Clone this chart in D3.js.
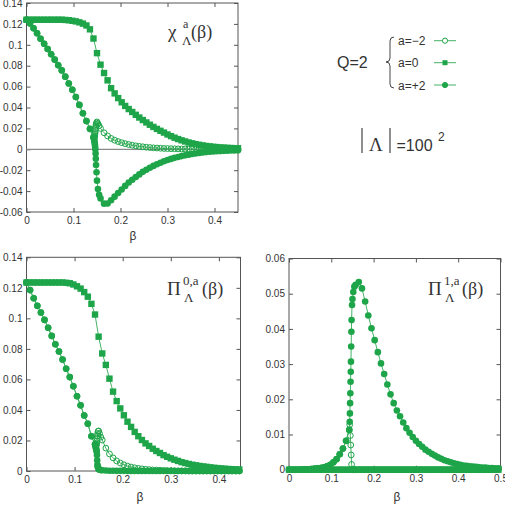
<!DOCTYPE html>
<html>
<head>
<meta charset="utf-8">
<script src="https://cdn.jsdelivr.net/npm/d3@7"></script>
<style>
body { margin: 0; background: #fff; }
svg { display: block; }
text { font-family: "Liberation Sans", Arial, sans-serif; fill: #333; }
.serif { font-family: "Liberation Serif", "Times New Roman", serif; }
</style>
</head>
<body>
<svg id="svg"></svg>
<script>
// beta grid (regular part) and extra points close to the transition
const betaCoarse = [
    0, 0.0075, 0.015, 0.0225, 0.03, 0.0375, 0.045, 0.0525, 0.06, 0.0675,
    0.075, 0.0825, 0.09, 0.0975, 0.105, 0.1125, 0.12, 0.1275, 0.135, 0.1425,
    0.15, 0.1575, 0.165, 0.1725, 0.18, 0.1875, 0.195, 0.2025, 0.21, 0.2175,
    0.225, 0.2325, 0.24, 0.2475, 0.255, 0.2625, 0.27, 0.2775, 0.285, 0.2925,
    0.3, 0.3075, 0.315, 0.3225, 0.33, 0.3375, 0.345, 0.3525, 0.36, 0.3675,
    0.375, 0.3825, 0.39, 0.3975, 0.405, 0.4125, 0.42, 0.4275, 0.435, 0.4425,
    0.45, 0.4575, 0.465, 0.4725, 0.48, 0.4875, 0.495];
const betaCrit = [0.1435, 0.144, 0.1445, 0.145, 0.1455, 0.146, 0.1465, 0.147, 0.1475, 0.148, 0.149, 0.152, 0.1545];

// chi^a
const chiZero = [
    0.124, 0.124, 0.124, 0.124, 0.124, 0.124, 0.124, 0.124, 0.124, 0.124,
    0.124, 0.1238, 0.1235, 0.123, 0.1224, 0.1215, 0.1203, 0.1185, 0.1148, 0.106,
    0.092, 0.081, 0.073, 0.066, 0.0585, 0.0535, 0.049, 0.045, 0.0415, 0.0385,
    0.0357, 0.033, 0.0304, 0.028, 0.0257, 0.0235, 0.0214, 0.0195, 0.0177, 0.016,
    0.0142, 0.0126, 0.0111, 0.0098, 0.0086, 0.0075, 0.0065, 0.0057, 0.0049, 0.0043,
    0.0037, 0.0032, 0.0028, 0.0024, 0.0021, 0.0018, 0.0016, 0.0014, 0.0012, 0.0011,
    0.001, 0.0009, 0.0008, 0.0007, 0.0006, 0.0006, 0.0005];
const chiPlus = [
    0.124, 0.1205, 0.1158, 0.111, 0.1058, 0.101, 0.096, 0.091, 0.0858, 0.0805,
    0.0755, 0.0695, 0.063, 0.057, 0.05, 0.0425, 0.0345, 0.027, 0.0195, 0.0115,
    -0.03, -0.047, -0.052, -0.0518, -0.0487, -0.0453, -0.0418, -0.0385, -0.035, -0.0317,
    -0.0292, -0.0265, -0.024, -0.0216, -0.0195, -0.0176, -0.0159, -0.0143, -0.0128, -0.0115,
    -0.0103, -0.0092, -0.0082, -0.0073, -0.0065, -0.0058, -0.0051, -0.0045, -0.004, -0.0035,
    -0.0031, -0.0027, -0.0024, -0.0021, -0.0019, -0.0017, -0.0015, -0.0013, -0.0012, -0.0011,
    -0.001, -0.0009, -0.0008, -0.0007, -0.0006, -0.0006, -0.0005];
const chiPlusCrit = [0.0105, 0.0095, 0.008, 0.0065, 0.0045, 0.0025, 0.0, -0.004, -0.009, -0.015, -0.022, -0.038, -0.0435];
const chiMinus = [
    0.124, 0.1205, 0.1158, 0.111, 0.1058, 0.101, 0.096, 0.091, 0.0858, 0.0805,
    0.0755, 0.0695, 0.063, 0.057, 0.05, 0.0425, 0.0345, 0.027, 0.0195, 0.0115,
    0.0262, 0.02, 0.0158, 0.0128, 0.0104, 0.0087, 0.0074, 0.0063, 0.0054, 0.0046,
    0.0039, 0.0033, 0.0028, 0.0024, 0.002, 0.0017, 0.0014, 0.0012, 0.001, 0.0008,
    0.0007, 0.0006, 0.0005, 0.0004, 0.0003, 0.0003, 0.0002, 0.0002, 0.0002, 0.0001,
    0.0001, 0.0001, 0.0001, 0.0001, 0, 0, 0, 0, 0, 0,
    0, 0, 0, 0, 0, 0, 0];
const chiMinusCrit = [0.0112, 0.0115, 0.012, 0.013, 0.0145, 0.016, 0.018, 0.02, 0.022, 0.0238, 0.0252, 0.0245, 0.0225];

// Pi^{0,a}
const pi0Zero = [
    0.1235, 0.1235, 0.1235, 0.1235, 0.1235, 0.1235, 0.1235, 0.1235, 0.1235, 0.1235,
    0.1235, 0.1233, 0.123, 0.1222, 0.121, 0.1195, 0.1172, 0.1142, 0.1095, 0.1025,
    0.088, 0.077, 0.0695, 0.0605, 0.052, 0.0458, 0.041, 0.0365, 0.0323, 0.0289,
    0.0256, 0.0228, 0.0203, 0.0181, 0.0164, 0.0146, 0.0131, 0.0118, 0.0104, 0.0093,
    0.0083, 0.0074, 0.0066, 0.0058, 0.0052, 0.0046, 0.0041, 0.0037, 0.0033, 0.003,
    0.0027, 0.0024, 0.0021, 0.0019, 0.0017, 0.0015, 0.0013, 0.0012, 0.0011, 0.001,
    0.0009, 0.0008, 0.0007, 0.0007, 0.0006, 0.0006, 0.0005];
const pi0Plus = [
    0.1235, 0.1185, 0.1132, 0.1082, 0.1038, 0.099, 0.0938, 0.0885, 0.083, 0.0783,
    0.073, 0.067, 0.0615, 0.0555, 0.049, 0.043, 0.0364, 0.031, 0.0228, 0.0175,
    0.0012, 0.0005, 0.0003, 0.0002, 0.0002, 0.0001, 0.0001, 0.0001, 0, 0,
    0, 0, 0, 0, 0, 0, 0, 0, 0, 0,
    0, 0, 0, 0, 0, 0, 0, 0, 0, 0,
    0, 0, 0, 0, 0, 0, 0, 0, 0, 0,
    0, 0, 0, 0, 0, 0, 0];
const pi0PlusCrit = [0.0165, 0.0158, 0.015, 0.0142, 0.0135, 0.0128, 0.0105, 0.007, 0.004, 0.003, 0.0022, 0.0008, 0.0006];
const pi0Minus = [
    0.1235, 0.1185, 0.1132, 0.1082, 0.1038, 0.099, 0.0938, 0.0885, 0.083, 0.0783,
    0.073, 0.067, 0.0615, 0.0555, 0.049, 0.043, 0.0364, 0.031, 0.0228, 0.0175,
    0.0262, 0.0203, 0.015, 0.0112, 0.0086, 0.0066, 0.0052, 0.0041, 0.0032, 0.0026,
    0.0021, 0.0017, 0.0014, 0.0011, 0.0009, 0.0007, 0.0006, 0.0005, 0.0004, 0.0003,
    0.0002, 0.0002, 0.0001, 0.0001, 0.0001, 0, 0, 0, 0, 0,
    0, 0, 0, 0, 0, 0, 0, 0, 0, 0,
    0, 0, 0, 0, 0, 0, 0];
const pi0MinusCrit = [0.0172, 0.0168, 0.0166, 0.0168, 0.0175, 0.0185, 0.0197, 0.0212, 0.023, 0.0246, 0.026, 0.0245, 0.0222];

// Pi^{1,a}
const pi1Zero = [
    0, 0, 0, 0, 0, 0, 0, 0, 0, 0,
    0, 0, 0, 0, 0, 0, 0, 0, 0, 0,
    0, 0, 0, 0, 0, 0, 0, 0, 0, 0,
    0, 0, 0, 0, 0, 0, 0, 0, 0, 0,
    0, 0, 0, 0, 0, 0, 0, 0, 0, 0,
    0, 0, 0, 0, 0, 0, 0, 0, 0, 0,
    0, 0, 0, 0, 0, 0, 0];
const pi1Plus = [
    0, 0, 0, 0, 0.00005, 0.0001, 0.00013, 0.0002, 0.0003, 0.0004,
    0.0005, 0.0007, 0.001, 0.0014, 0.0021, 0.003, 0.0044, 0.006, 0.0082, 0.0113,
    0.0485, 0.0525, 0.0533, 0.0515, 0.0478, 0.0438, 0.0402, 0.0368, 0.0334, 0.0302,
    0.0272, 0.0242, 0.0214, 0.0189, 0.0168, 0.0152, 0.0134, 0.0118, 0.0105, 0.0093,
    0.0082, 0.0073, 0.0065, 0.0057, 0.0051, 0.0045, 0.004, 0.0035, 0.0031, 0.0027,
    0.0024, 0.0021, 0.0018, 0.0016, 0.0014, 0.0012, 0.0011, 0.001, 0.0009, 0.0008,
    0.0007, 0.0006, 0.0006, 0.0005, 0.0005, 0.0004, 0.0004];
const pi1PlusCrit = [0.0136, 0.016, 0.0189, 0.0217, 0.025, 0.0278, 0.0307, 0.035, 0.0392, 0.0425, 0.0468, 0.0505, 0.052];
const pi1Minus = [
    0, 0, 0, 0, 0.00005, 0.0001, 0.00013, 0.0002, 0.0003, 0.0004,
    0.0005, 0.0007, 0.001, 0.0014, 0.0021, 0.003, 0.0044, 0.006, 0.0082, 0.0113,
    0, 0, 0, 0, 0, 0, 0, 0, 0, 0,
    0, 0, 0, 0, 0, 0, 0, 0, 0, 0,
    0, 0, 0, 0, 0, 0, 0, 0, 0, 0,
    0, 0, 0, 0, 0, 0, 0, 0, 0, 0,
    0, 0, 0, 0, 0, 0, 0];
const pi1MinusCrit = [0.0128, null, null, 0.0097, null, 0.007, null, 0.0042, null, 0.0015, null, 0, 0];

// tick values
const chiTicks = [-0.06, -0.04, -0.02, 0, 0.02, 0.04, 0.06, 0.08, 0.1, 0.12, 0.14];
const pi0Ticks = [0, 0.02, 0.04, 0.06, 0.08, 0.1, 0.12, 0.14];
const pi1Ticks = [0, 0.01, 0.02, 0.03, 0.04, 0.05, 0.06];
const betaTicks = [0, 0.1, 0.2, 0.3, 0.4];
const betaTicksLong = [0, 0.1, 0.2, 0.3, 0.4, 0.5];

const legendLabels = ["a=\u22122", "a=0", "a=+2"];

let width = 505;
let height = 509;
const green = "#1ea549";
const lineGreen = "#44b366";
const frameColor = "#555";

let svg = d3.select("#svg").attr("width", width).attr("height", height);

function mergePoints(coarse, crit) {
    let pts = betaCoarse.map((b, i) => [b, coarse[i]]);
    if (crit) {
        betaCrit.forEach((b, i) => {
            if (crit[i] !== null) pts.push([b, crit[i]]);
        });
    }
    pts.sort((p, q) => p[0] - q[0]);
    return pts;
}

function drawMarkers(g, pts, kind) {
    if (kind === "square") {
        g.selectAll(null).data(pts).enter().append("rect")
            .attr("x", d => d[0] - 3.2).attr("y", d => d[1] - 3.2)
            .attr("width", 6.4).attr("height", 6.4)
            .attr("fill", green);
    } else {
        g.selectAll(null).data(pts).enter().append("circle")
            .attr("cx", d => d[0]).attr("cy", d => d[1])
            .attr("r", kind === "open" ? 2.9 : 3.3)
            .attr("fill", kind === "open" ? "none" : green)
            .attr("stroke", green)
            .attr("stroke-width", kind === "open" ? 1 : 0);
    }
}

const fmt = d => String(+d.toFixed(2));

function drawPanel(p) {
    let x = d3.scaleLinear().domain(p.xDomain).range([p.box.x0, p.box.x1]);
    let y = d3.scaleLinear().domain(p.yDomain).range([p.box.y1, p.box.y0]);
    let g = svg.append("g");

    // gnuplot style: inward ticks on all four sides
    let axes = g.append("g");
    axes.append("g").attr("transform", `translate(${p.box.x0},0)`)
        .call(d3.axisLeft(y).tickValues(p.yTicks).tickSize(-4).tickPadding(4).tickFormat(fmt));
    axes.append("g").attr("transform", `translate(${p.box.x1},0)`)
        .call(d3.axisRight(y).tickValues(p.yTicks).tickSize(-4).tickFormat(""));
    axes.append("g").attr("transform", `translate(0,${p.box.y1})`)
        .call(d3.axisBottom(x).tickValues(p.xTicks).tickSize(-4).tickPadding(5).tickFormat(fmt));
    axes.append("g").attr("transform", `translate(0,${p.box.y0})`)
        .call(d3.axisTop(x).tickValues(p.xTicks).tickSize(-4).tickFormat(""));
    axes.selectAll(".domain").remove();
    axes.selectAll(".tick line").attr("stroke", frameColor);
    axes.selectAll("g").attr("font-family", "Liberation Sans, Arial, sans-serif").attr("font-size", 10);

    g.append("rect")
        .attr("x", p.box.x0).attr("y", p.box.y0)
        .attr("width", p.box.x1 - p.box.x0).attr("height", p.box.y1 - p.box.y0)
        .attr("fill", "none").attr("stroke", frameColor).attr("stroke-width", 1);

    if (p.zeroLine) {
        g.append("line")
            .attr("x1", p.box.x0).attr("x2", p.box.x1)
            .attr("y1", y(0)).attr("y2", y(0))
            .attr("stroke", "#8a8a8a").attr("stroke-width", 1.2);
    }

    let line = d3.line().x(d => x(d[0])).y(d => y(d[1]));
    p.series.forEach(s => {
        let pts = s.points.filter(d => d[0] <= p.xDomain[1] + 1e-9);
        g.append("path").datum(pts)
            .attr("fill", "none").attr("stroke", lineGreen).attr("stroke-width", 1)
            .attr("d", line);
        drawMarkers(g.append("g"), pts.map(d => [x(d[0]), y(d[1])]), s.kind);
    });

    // x label
    g.append("text").attr("x", p.xLabel[0]).attr("y", p.xLabel[1])
        .attr("text-anchor", "middle").attr("font-size", 12).text("\u03b2");

    // title, e.g. Pi^{0,a}_Lambda(beta)
    let t = p.title;
    g.append("text").attr("class", "serif").attr("x", t.x).attr("y", t.y)
        .attr("font-size", 19).text(t.main);
    g.append("text").attr("class", "serif").attr("x", t.supX).attr("y", t.y - 10)
        .attr("font-size", t.supSize).text(t.sup);
    g.append("text").attr("class", "serif").attr("x", t.subX).attr("y", t.y + 7)
        .attr("font-size", 13).text("\u039b");
    g.append("text").attr("class", "serif").attr("x", t.parenX).attr("y", t.y)
        .attr("font-size", 18).text("(\u03b2)");
}

const panels = [
    {
        box: { x0: 26.5, x1: 238, y0: 3, y1: 212 },
        xDomain: [0, 0.45], yDomain: [-0.06, 0.14],
        xTicks: betaTicks, yTicks: chiTicks, zeroLine: true,
        xLabel: [133, 240],
        title: { main: "\u03c7", sup: "a", supSize: 12, x: 168, y: 38, supX: 183, subX: 182, parenX: 191 },
        series: [
            { kind: "open", points: mergePoints(chiMinus, chiMinusCrit) },
            { kind: "square", points: mergePoints(chiZero) },
            { kind: "filled", points: mergePoints(chiPlus, chiPlusCrit) }
        ]
    },
    {
        box: { x0: 26.5, x1: 240.5, y0: 257.3, y1: 471 },
        xDomain: [0, 0.445], yDomain: [0, 0.14],
        xTicks: betaTicks, yTicks: pi0Ticks, zeroLine: false,
        xLabel: [140, 501],
        title: { main: "\u03a0", sup: "0,a", supSize: 13, x: 167, y: 295, supX: 183, subX: 184, parenX: 202 },
        series: [
            { kind: "open", points: mergePoints(pi0Minus, pi0MinusCrit) },
            { kind: "square", points: mergePoints(pi0Zero) },
            { kind: "filled", points: mergePoints(pi0Plus, pi0PlusCrit) }
        ]
    },
    {
        box: { x0: 289, x1: 500.5, y0: 258.5, y1: 469.7 },
        xDomain: [0, 0.5], yDomain: [0, 0.06],
        xTicks: betaTicksLong, yTicks: pi1Ticks, zeroLine: false,
        xLabel: [397, 501],
        title: { main: "\u03a0", sup: "1,a", supSize: 13, x: 428, y: 295, supX: 444, subX: 445, parenX: 462 },
        series: [
            { kind: "open", points: mergePoints(pi1Minus, pi1MinusCrit) },
            { kind: "square", points: mergePoints(pi1Zero) },
            { kind: "filled", points: mergePoints(pi1Plus, pi1PlusCrit) }
        ]
    }
];

function drawLegend() {
    let g = svg.append("g");
    g.append("text").attr("x", 337).attr("y", 68).attr("font-size", 16).text("Q=2");

    // curly brace
    g.append("path")
        .attr("d", "M394,37 Q390,37 390,41 L390,58 Q390,62 386,62 Q390,62 390,66 L390,84 Q390,88 394,88")
        .attr("fill", "none").attr("stroke", "#444").attr("stroke-width", 1);

    const kinds = ["open", "square", "filled"];
    const rowY = [40.7, 62.7, 85];
    legendLabels.forEach((lab, i) => {
        g.append("text").attr("x", 398).attr("y", rowY[i] + 4.5).attr("font-size", 12).text(lab);
        g.append("line").attr("x1", 434).attr("x2", 456).attr("y1", rowY[i]).attr("y2", rowY[i])
            .attr("stroke", lineGreen).attr("stroke-width", 1);
        let k = kinds[i];
        if (k === "square") {
            g.append("rect").attr("x", 442.5).attr("y", rowY[i] - 2.5).attr("width", 5).attr("height", 5).attr("fill", green);
        } else {
            g.append("circle").attr("cx", 445).attr("cy", rowY[i]).attr("r", 2.6)
                .attr("fill", k === "open" ? "#fff" : green).attr("stroke", green).attr("stroke-width", 1);
        }
    });

    // |Lambda| = 100^2
    g.append("line").attr("x1", 362).attr("x2", 362).attr("y1", 128).attr("y2", 153).attr("stroke", "#444").attr("stroke-width", 1.2);
    g.append("line").attr("x1", 390).attr("x2", 390).attr("y1", 128).attr("y2", 153).attr("stroke", "#444").attr("stroke-width", 1.2);
    g.append("text").attr("class", "serif").attr("x", 369).attr("y", 151).attr("font-size", 19).text("\u039b");
    g.append("text").attr("x", 396.5).attr("y", 151).attr("font-size", 16).text("=100");
    g.append("text").attr("x", 438).attr("y", 141).attr("font-size", 12).text("2");
}

panels.forEach(drawPanel);
drawLegend();
</script>
</body>
</html>
